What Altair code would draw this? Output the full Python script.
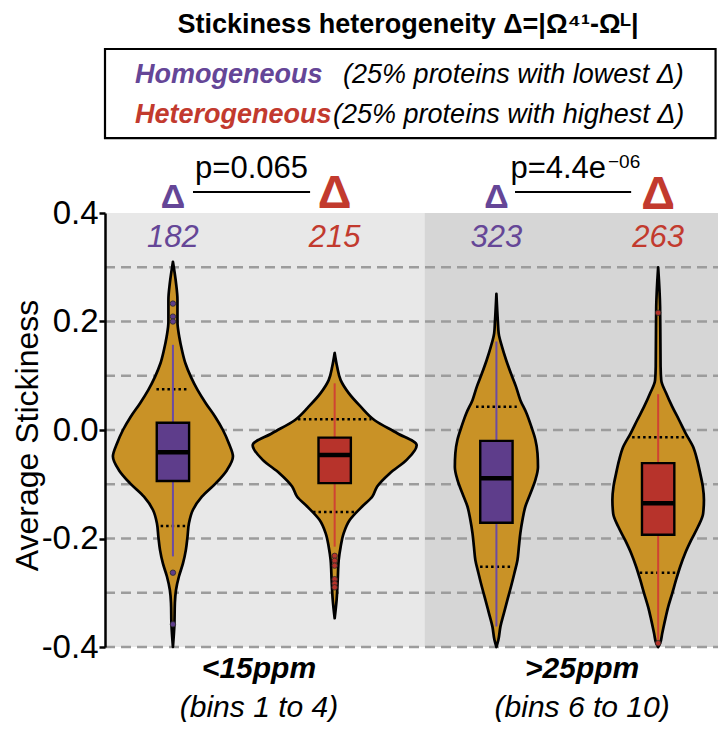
import altair as alt
import pandas as pd

# ---------------- data ----------------
positions = [1, 2, 3, 4]
group_colors = ["#5E3D8B", "#B7332B", "#5E3D8B", "#B7332B"]
whisker_colors = ["#6B4BA3", "#CF4333", "#6B4BA3", "#CF4333"]
text_colors = ["#654697", "#C23A2E", "#654697", "#C23A2E"]
counts = ["182", "215", "323", "263"]

# violin outlines: stickiness value and half-width (x units)
v1_y = [0.310, 0.271, 0.240, 0.199, 0.172, 0.147, 0.123, 0.098, 0.074, 0.049, 0.025, 0.0,
        -0.025, -0.049, -0.074, -0.098, -0.123, -0.147, -0.172, -0.197, -0.221, -0.246,
        -0.270, -0.295, -0.319, -0.360, -0.400]
v1_hw = [0.0, 0.019, 0.028, 0.028, 0.039, 0.056, 0.077, 0.111, 0.152, 0.204, 0.260, 0.309,
         0.346, 0.371, 0.334, 0.266, 0.179, 0.124, 0.099, 0.090, 0.080, 0.062,
         0.037, 0.019, 0.012, 0.009, 0.0]
v2_y = [0.142, 0.117, 0.092, 0.068, 0.043, 0.018, -0.006, -0.028, -0.055, -0.080, -0.104,
        -0.123, -0.141, -0.166, -0.190, -0.215, -0.240, -0.276, -0.313, -0.347]
v2_hw = [0.0, 0.015, 0.037, 0.087, 0.161, 0.247, 0.387, 0.507, 0.445, 0.340, 0.263,
         0.232, 0.170, 0.093, 0.056, 0.037, 0.025, 0.019, 0.012, 0.0]
v3_y = [0.251, 0.200, 0.178, 0.154, 0.129, 0.104, 0.080, 0.055, 0.031, 0.006, -0.018, -0.043,
        -0.068, -0.092, -0.117, -0.141, -0.166, -0.190, -0.215, -0.240, -0.264, -0.289,
        -0.313, -0.338, -0.362, -0.387, -0.400]
v3_hw = [0.0, 0.009, 0.014, 0.034, 0.060, 0.090, 0.121, 0.148, 0.186, 0.216, 0.241, 0.254,
         0.257, 0.241, 0.210, 0.179, 0.161, 0.148, 0.139, 0.130, 0.111, 0.090,
         0.068, 0.046, 0.025, 0.012, 0.0]
v4_y = [0.300, 0.227, 0.117, 0.092, 0.068, 0.043, 0.018, -0.006, -0.031, -0.055, -0.080,
        -0.104, -0.129, -0.154, -0.178, -0.203, -0.227, -0.252, -0.276, -0.301, -0.326,
        -0.350, -0.375, -0.393, -0.400]
v4_hw = [0.0, 0.012, 0.015, 0.019, 0.049, 0.087, 0.130, 0.170, 0.216, 0.241, 0.260,
         0.276, 0.283, 0.278, 0.247, 0.204, 0.167, 0.136, 0.111, 0.087, 0.062,
         0.043, 0.025, 0.012, 0.0]

box_q3 = [0.0135, -0.014, -0.020, -0.061]
box_q1 = [-0.094, -0.098, -0.171, -0.193]
box_med = [-0.041, -0.046, -0.089, -0.135]
whisk_hi = [0.157, 0.086, 0.163, 0.066]
whisk_lo = [-0.233, -0.215, -0.362, -0.387]
box_half = 0.1

outlier_pos = [1, 1, 1, 1, 1, 2, 2, 2, 2, 2, 2, 4, 4]
outlier_val = [0.233, 0.209, 0.200, -0.263, -0.358,
               -0.232, -0.241, -0.250, -0.275, -0.283, -0.290, 0.216, -0.393]

dot_pos = [1, 1, 2, 2, 3, 3, 4, 4]
dot_val = [0.075, -0.177, 0.020, -0.151, 0.043, -0.252, -0.0135, -0.263]
dot_hw = [0.102, 0.076, 0.227, 0.134, 0.126, 0.101, 0.161, 0.114]

grid_vals = [0.3, 0.2, 0.1, 0.0, -0.1, -0.2, -0.3, -0.4]
y_ticks = [-0.4, -0.2, 0.0, 0.2, 0.4]

panels_x = [0.58, 2.555]
panels_x2 = [2.555, 4.37]
panel_fill = ["#E8E8E8", "#D6D6D6"]

x_dom = [0.58, 4.37]
y_dom = [-0.4, 0.4]

# ---------------- tables ----------------
rows = []
for p, ys_, hws in zip(positions, [v1_y, v2_y, v3_y, v4_y], [v1_hw, v2_hw, v3_hw, v4_hw]):
    for yv, hw in zip(ys_, hws):
        rows.append({"grp": p, "y": yv, "left": p - hw, "right": p + hw})
violin_df = pd.DataFrame(rows)

box_df = pd.DataFrame({
    "pos": positions, "l": [p - box_half for p in positions], "r": [p + box_half for p in positions],
    "q1": box_q1, "q3": box_q3, "med": box_med, "lo": whisk_lo, "hi": whisk_hi,
    "fill": group_colors, "wc": whisker_colors,
})
out_df = pd.DataFrame({"pos": outlier_pos, "y": outlier_val,
                       "c": [group_colors[p - 1] for p in outlier_pos]})
dot_df = pd.DataFrame({"l": [p - h for p, h in zip(dot_pos, dot_hw)],
                       "r": [p + h for p, h in zip(dot_pos, dot_hw)], "y": dot_val})
grid_df = pd.DataFrame({"y": grid_vals, "l": x_dom[0], "r": x_dom[1]})
panel_df = pd.DataFrame({"l": panels_x, "r": panels_x2, "b": y_dom[0], "t": y_dom[1], "c": panel_fill})

FONT = "Liberation Sans"

xs = alt.Scale(domain=x_dom, nice=False, zero=False)
ys = alt.Scale(domain=y_dom, nice=False, zero=False)
yaxis = alt.Axis(
    values=y_ticks, title="Average Stickiness", grid=False, zindex=2,
    labelExpr="datum.value < 0 ? '-' + format(-datum.value, '.1f') : format(datum.value, '.1f')",
    labelFont=FONT, labelFontSize=33, labelColor="black", labelPadding=1,
    tickSize=6, tickWidth=2.5, tickColor="black",
    domainColor="black", domainWidth=2.5,
    titleFont=FONT, titleFontSize=32, titleFontWeight="normal", titleColor="black",
    titleX=-68, titleY=222, titleAngle=270, titleAlign="center", titleBaseline="alphabetic",
)


def X(f):
    return alt.X(f, type="quantitative", scale=xs, axis=None)


def Y(f):
    return alt.Y(f, type="quantitative", scale=ys, axis=yaxis)


panels = alt.Chart(panel_df).mark_rect().encode(
    x=X("l"), x2="r", y=Y("b"), y2="t", fill=alt.Fill("c:N", scale=None))

grid = alt.Chart(grid_df).mark_rule(color="#9C9C9C", strokeWidth=2.5, strokeDash=[10, 6]).encode(
    x=X("l"), x2="r", y=Y("y"))

violins = alt.Chart(violin_df).mark_area(
    orient="horizontal", interpolate="monotone", fill="#C99226",
    stroke="black", strokeWidth=2.7, strokeJoin="round").encode(
    y=Y("y"), x=X("left"), x2="right", detail="grp:N")

dots = alt.Chart(dot_df).mark_rule(color="black", strokeWidth=2.5, strokeDash=[2.5, 3]).encode(
    x=X("l"), x2="r", y=Y("y"))

whiskers = alt.Chart(box_df).mark_rule(strokeWidth=2).encode(
    x=X("pos"), y=Y("lo"), y2="hi", color=alt.Color("wc:N", scale=None))

boxes = alt.Chart(box_df).mark_rect(stroke="black", strokeWidth=2.4).encode(
    x=X("l"), x2="r", y=Y("q1"), y2="q3", fill=alt.Fill("fill:N", scale=None))

medians = alt.Chart(box_df).mark_rule(color="black", strokeWidth=4.5).encode(
    x=X("l"), x2="r", y=Y("med"))

outliers = alt.Chart(out_df).mark_circle(size=30, opacity=1, stroke="#2A2A2A", strokeWidth=0.8).encode(
    x=X("pos"), y=Y("y"), fill=alt.Fill("c:N", scale=None))

# ---------------- annotations ----------------
count_df = pd.DataFrame({"x": positions, "y": 0.337, "t": counts, "c": text_colors})
counts_t = alt.Chart(count_df).mark_text(font=FONT, fontSize=31, fontStyle="italic", baseline="alphabetic").encode(
    x=X("x"), y=Y("y"), text="t:N", color=alt.Color("c:N", scale=None))

small_delta = pd.DataFrame({"x": [1, 3], "y": [0.4092, 0.4092], "t": ["Δ", "Δ"]})
big_delta = pd.DataFrame({"x": [2, 4], "y": [0.4092, 0.4075], "t": ["Δ", "Δ"]})
sd = alt.Chart(small_delta).mark_text(font=FONT, fontSize=34, fontWeight="bold", color=text_colors[0],
                                      baseline="alphabetic").encode(x=X("x"), y=Y("y"), text="t:N")
bd = alt.Chart(big_delta).mark_text(font=FONT, fontSize=47, fontWeight="bold", color=text_colors[1],
                                    baseline="alphabetic").encode(x=X("x"), y=Y("y"), text="t:N")

p_main = pd.DataFrame({"x": [1.486, 3.678], "y": [0.4645, 0.4645], "t": ["p=0.065", "p=4.4e"]})
p1 = alt.Chart(p_main.iloc[[0]]).mark_text(font=FONT, fontSize=31, align="center", baseline="alphabetic",
                                            color="black").encode(x=X("x"), y=Y("y"), text="t:N")
p2 = alt.Chart(p_main.iloc[[1]]).mark_text(font=FONT, fontSize=31, align="right", baseline="alphabetic",
                                            color="black").encode(x=X("x"), y=Y("y"), text="t:N")
p_sup = pd.DataFrame({"x": [3.69], "y": [0.483], "t": ["−06"]})
p3 = alt.Chart(p_sup).mark_text(font=FONT, fontSize=19, align="left", baseline="alphabetic",
                                color="black").encode(x=X("x"), y=Y("y"), text="t:N")
under_df = pd.DataFrame({"l": [1.124, 3.115], "r": [1.848, 3.833], "y": [0.4387, 0.4387]})
under = alt.Chart(under_df).mark_rule(color="black", strokeWidth=2).encode(x=X("l"), x2="r", y=Y("y"))

cat_df = pd.DataFrame({"x": [1.532, 3.53], "y": [-0.457, -0.457], "t": ["<15ppm", ">25ppm"]})
cat_t = alt.Chart(cat_df).mark_text(font=FONT, fontSize=30, fontWeight="bold", fontStyle="italic",
                                    baseline="alphabetic", color="black").encode(x=X("x"), y=Y("y"), text="t:N")
bins_df = pd.DataFrame({"x": [1.532, 3.53], "y": [-0.529, -0.529], "t": ["(bins 1 to 4)", "(bins 6 to 10)"]})
bins_t = alt.Chart(bins_df).mark_text(font=FONT, fontSize=30, fontStyle="italic",
                                      baseline="alphabetic", color="black").encode(x=X("x"), y=Y("y"), text="t:N")

title_df = pd.DataFrame({"x": [2.454], "y": [0.7318], "t": ["Stickiness heterogeneity Δ=|Ω⁴¹-Ωᴸ|"]})
title_t = alt.Chart(title_df).mark_text(font=FONT, fontSize=27, fontWeight="bold", align="center",
                                        baseline="alphabetic", color="black").encode(x=X("x"), y=Y("y"), text="t:N")

frame_df = pd.DataFrame({"l": [0.58], "r": [4.355], "b": [0.5382], "t": [0.7023]})
frame = alt.Chart(frame_df).mark_rect(fillOpacity=0, stroke="black", strokeWidth=2.2).encode(
    x=X("l"), x2="r", y=Y("b"), y2="t")

leg_names = pd.DataFrame({"x": [0.7655, 0.7655], "y": [0.6396, 0.5659],
                          "t": ["Homogeneous", "Heterogeneous"], "c": [text_colors[0], text_colors[1]]})
leg_n = alt.Chart(leg_names).mark_text(font=FONT, fontSize=27, fontWeight="bold", fontStyle="italic",
                                       align="left", baseline="alphabetic").encode(
    x=X("x"), y=Y("y"), text="t:N", color=alt.Color("c:N", scale=None))
leg_desc = pd.DataFrame({"x": [2.052, 1.99], "y": [0.6396, 0.5659],
                         "t": ["(25% proteins with lowest Δ)", "(25% proteins with highest Δ)"]})
leg_d = alt.Chart(leg_desc).mark_text(font=FONT, fontSize=27, fontStyle="italic", align="left",
                                      baseline="alphabetic", color="black").encode(x=X("x"), y=Y("y"), text="t:N")

chart = alt.layer(
    panels, grid, violins, dots, whiskers, boxes, medians, outliers,
    counts_t, sd, bd, p1, p2, p3, under, cat_t, bins_t, title_t, frame, leg_n, leg_d,
).properties(
    width=613, height=434,
    autosize=alt.AutoSizeParams(type="none"),
    padding={"left": 97, "top": 205, "right": 0, "bottom": 75},
).configure_view(stroke=None)

chart.save("out.html", embed_options={"renderer": "svg", "actions": False})
